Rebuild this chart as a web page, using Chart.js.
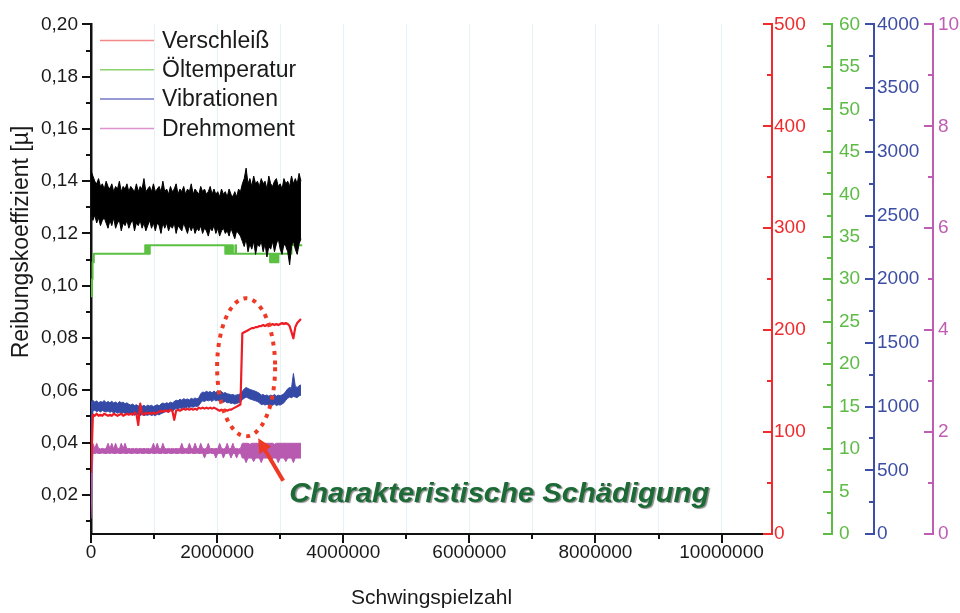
<!DOCTYPE html>
<html>
<head>
<meta charset="utf-8">
<title>Schwingspielzahl</title>
<script src="https://cdn.jsdelivr.net/npm/chart.js@4.4.1/dist/chart.umd.min.js"></script>
<style>
  html, body { margin: 0; padding: 0; background: #fff; }
  #wrap { width: 960px; height: 613px; position: relative; }
</style>
</head>
<body>
<div id="wrap"><canvas id="chart"></canvas></div>
<script>
// logged channels: one sample every 30 000 cycles
const sampleStep = 30000;

// friction coefficient, upper and lower edge of the scatter band (left axis)
const frictionHigh = [
  0.144, 0.142, 0.140, 0.139, 0.141, 0.138, 0.139, 0.137, 0.140, 0.138,
  0.137, 0.139, 0.136, 0.138, 0.137, 0.140, 0.136, 0.138, 0.137, 0.139,
  0.136, 0.138, 0.137, 0.136, 0.139, 0.136, 0.138, 0.137, 0.141, 0.136,
  0.137, 0.138, 0.136, 0.139, 0.136, 0.137, 0.138, 0.136, 0.140, 0.136,
  0.137, 0.135, 0.138, 0.136, 0.137, 0.139, 0.135, 0.137, 0.136, 0.138,
  0.135, 0.137, 0.136, 0.139, 0.135, 0.137, 0.136, 0.135, 0.138, 0.136,
  0.137, 0.135, 0.136, 0.138, 0.135, 0.137, 0.135, 0.136, 0.134, 0.137,
  0.135, 0.136, 0.134, 0.137, 0.135, 0.134, 0.136, 0.134, 0.137, 0.136,
  0.139, 0.141, 0.145, 0.139, 0.141, 0.138, 0.142, 0.139, 0.140, 0.138,
  0.141, 0.139, 0.140, 0.137, 0.142, 0.139, 0.138, 0.140, 0.141, 0.138,
  0.139, 0.137, 0.141, 0.139, 0.140, 0.138, 0.142, 0.139, 0.141, 0.139,
  0.143, 0.140
];
const frictionLow = [
  0.128, 0.125, 0.127, 0.124, 0.126, 0.123, 0.125, 0.126, 0.124, 0.122,
  0.125, 0.123, 0.126, 0.122, 0.124, 0.125, 0.121, 0.124, 0.123, 0.125,
  0.122, 0.124, 0.125, 0.121, 0.124, 0.123, 0.125, 0.122, 0.124, 0.121,
  0.123, 0.125, 0.122, 0.124, 0.121, 0.124, 0.123, 0.120, 0.124, 0.122,
  0.124, 0.121, 0.123, 0.122, 0.124, 0.120, 0.123, 0.122, 0.121, 0.124,
  0.122, 0.120, 0.123, 0.121, 0.123, 0.120, 0.122, 0.121, 0.123, 0.120,
  0.122, 0.121, 0.119, 0.122, 0.121, 0.123, 0.120, 0.122, 0.119, 0.121,
  0.122, 0.120, 0.121, 0.119, 0.122, 0.120, 0.118, 0.121, 0.120, 0.119,
  0.117, 0.115, 0.118, 0.113, 0.116, 0.114, 0.117, 0.112, 0.116, 0.115,
  0.117, 0.113, 0.116, 0.111, 0.115, 0.114, 0.117, 0.113, 0.116, 0.118,
  0.114, 0.112, 0.116, 0.115, 0.113, 0.108, 0.115, 0.117, 0.114, 0.112,
  0.116, 0.118
];

// Verschleiß (wear)
const wear = [
  60, 117, 116, 118, 116, 117, 116, 118, 117, 116,
  117, 116, 118, 117, 116, 117, 118, 116, 117, 118,
  117, 118, 117, 119, 118, 107, 128, 118, 117, 119,
  118, 119, 118, 119, 118, 119, 120, 121, 120, 121,
  121, 120, 122, 121, 112, 121, 122, 121, 122, 123,
  122, 123, 122, 123, 122, 123, 122, 124, 123, 124,
  123, 124, 123, 124, 123, 124, 123, 122, 121, 122,
  121, 122, 121, 122, 122, 123, 124, 125, 126, 127,
  197, 198, 199, 200, 201, 202, 202, 203, 203, 204,
  204, 205, 204, 205, 206, 205, 206, 205, 206, 205,
  206, 207, 206, 207, 206, 204, 198, 192, 203, 207,
  209, 211
];

// Vibrationen, band edges
const vibHigh = [
  1040, 1050, 1035, 1045, 1030, 1040, 1035, 1048, 1030, 1040,
  1030, 1042, 1028, 1036, 1025, 1040, 1030, 1035, 1022, 1030,
  1018, 1012, 1020, 1008, 1015, 1005, 1012, 1002, 1010, 1000,
  1012, 1004, 1010, 1000, 1008, 1015, 1005, 1020, 1028, 1022,
  1030, 1025, 1035, 1028, 1040, 1050, 1045, 1058, 1050, 1062,
  1055, 1060, 1052, 1065, 1058, 1068, 1060, 1070, 1100, 1115,
  1110, 1120, 1112, 1118, 1108, 1122, 1110, 1125, 1112, 1118,
  1105, 1110, 1100, 1098, 1092, 1095, 1088, 1092, 1095, 1100,
  1120, 1138, 1150, 1142, 1135, 1130, 1125, 1120, 1112, 1105,
  1090, 1095, 1085, 1092, 1082, 1090, 1085, 1095, 1082, 1090,
  1085, 1092, 1100, 1120, 1140, 1150, 1145, 1260, 1160, 1150,
  1165, 1170
];
const vibLow = [
  480, 965, 972, 960, 968, 958, 970, 962, 958, 966,
  955, 962, 950, 958, 948, 955, 945, 952, 948, 940,
  945, 938, 942, 932, 940, 935, 930, 938, 928, 935,
  932, 938, 930, 936, 928, 940, 935, 945, 950, 958,
  960, 955, 968, 962, 975, 985, 980, 990, 985, 995,
  990, 998, 992, 1000, 995, 1005, 1000, 1008, 1030, 1045,
  1040, 1050, 1045, 1052, 1040, 1055, 1045, 1050, 1042, 1048,
  1035, 1040, 1030, 1032, 1025, 1028, 1020, 1025, 1030, 1035,
  1055, 1065, 1075, 1068, 1060, 1055, 1050, 1045, 1040, 1030,
  1015, 1020, 1012, 1018, 1008, 1015, 1010, 1020, 1008, 1015,
  1012, 1020, 1030, 1050, 1065, 1075, 1070, 1080, 1075, 1070,
  1085, 1090
];

// Drehmoment (torque), band edges
const torqueHigh = [
  1.78, 1.78, 1.68, 1.78, 1.68, 1.67, 1.68, 1.67, 1.68, 1.78,
  1.68, 1.78, 1.67, 1.78, 1.68, 1.67, 1.78, 1.68, 1.78, 1.67,
  1.68, 1.67, 1.68, 1.67, 1.68, 1.67, 1.68, 1.67, 1.68, 1.67,
  1.68, 1.67, 1.68, 1.78, 1.67, 1.78, 1.68, 1.67, 1.78, 1.68,
  1.67, 1.68, 1.67, 1.68, 1.67, 1.68, 1.67, 1.68, 1.78, 1.67,
  1.68, 1.67, 1.78, 1.68, 1.67, 1.78, 1.68, 1.67, 1.78, 1.68,
  1.67, 1.68, 1.78, 1.67, 1.68, 1.67, 1.68, 1.67, 1.78, 1.68,
  1.67, 1.68, 1.78, 1.67, 1.68, 1.78, 1.67, 1.68, 1.67, 1.68,
  1.78, 1.78, 1.78, 1.78, 1.76, 1.78, 1.78, 1.78, 1.78, 1.78,
  1.78, 1.76, 1.78, 1.78, 1.78, 1.78, 1.78, 1.76, 1.78, 1.78,
  1.78, 1.78, 1.78, 1.78, 1.78, 1.78, 1.78, 1.78, 1.78, 1.78,
  1.78, 1.78
];
const torqueLow = [
  0.30, 1.58, 1.58, 1.59, 1.58, 1.58, 1.59, 1.58, 1.58, 1.59,
  1.58, 1.59, 1.58, 1.58, 1.59, 1.58, 1.58, 1.59, 1.58, 1.58,
  1.59, 1.58, 1.58, 1.59, 1.58, 1.58, 1.59, 1.58, 1.58, 1.59,
  1.58, 1.58, 1.59, 1.58, 1.58, 1.59, 1.58, 1.58, 1.59, 1.58,
  1.58, 1.59, 1.58, 1.58, 1.59, 1.58, 1.58, 1.59, 1.58, 1.58,
  1.59, 1.58, 1.58, 1.59, 1.58, 1.58, 1.59, 1.58, 1.58, 1.59,
  1.49, 1.58, 1.58, 1.59, 1.58, 1.58, 1.49, 1.58, 1.58, 1.59,
  1.49, 1.58, 1.58, 1.59, 1.49, 1.58, 1.58, 1.49, 1.58, 1.59,
  1.49, 1.49, 1.40, 1.49, 1.49, 1.49, 1.42, 1.49, 1.49, 1.49,
  1.40, 1.49, 1.49, 1.49, 1.49, 1.41, 1.49, 1.49, 1.49, 1.40,
  1.49, 1.49, 1.49, 1.42, 1.49, 1.49, 1.49, 1.40, 1.49, 1.49,
  1.49, 1.49
];

// Öltemperatur is only logged when it changes
const oilCycles = [
  0, 15000, 25000, 45000,
  860000, 872000, 884000, 896000, 908000, 920000, 932000,
  2130000, 2145000, 2160000, 2175000, 2190000, 2205000, 2220000, 2235000, 2250000,
  2290000, 2300000,
  2840000, 2852000, 2864000, 2876000, 2888000, 2900000, 2912000, 2924000, 2936000, 2948000, 2960000, 2972000,
  3160000, 3170000, 3180000, 3350000
];
const oilTemp = [
  28, 30, 32, 33,
  34, 33, 34, 33, 34, 33, 34,
  33, 34, 33, 34, 33, 34, 33, 34, 33,
  34, 33,
  32, 33, 32, 33, 32, 33, 32, 33, 32, 33, 32, 33,
  34, 33, 34, 34
];

// axis ticks (labels on every second one)
const cycleTicks = [0, 1000000, 2000000, 3000000, 4000000, 5000000, 6000000, 7000000, 8000000, 9000000, 10000000];
const frictionTicks = [0.01, 0.02, 0.03, 0.04, 0.05, 0.06, 0.07, 0.08, 0.09, 0.10,
  0.11, 0.12, 0.13, 0.14, 0.15, 0.16, 0.17, 0.18, 0.19, 0.20];
const wearTicks = [0, 50, 100, 150, 200, 250, 300, 350, 400, 450, 500];
const oilTicks = [0, 2.5, 5, 7.5, 10, 12.5, 15, 17.5, 20, 22.5, 25, 27.5, 30,
  32.5, 35, 37.5, 40, 42.5, 45, 47.5, 50, 52.5, 55, 57.5, 60];
const vibTicks = [0, 250, 500, 750, 1000, 1250, 1500, 1750, 2000, 2250, 2500,
  2750, 3000, 3250, 3500, 3750, 4000];
const torqueTicks = [0, 1, 2, 3, 4, 5, 6, 7, 8, 9, 10];

const FONT = 'Liberation Sans, Arial, Helvetica, sans-serif';
const GREEN = '#5dbb46', BLUE = '#3d4ea6', PINK = '#bf5cb3';

function sampled(values) {
  return values.map((v, i) => ({ x: i * sampleStep, y: v }));
}

const oilData = oilCycles.map((c, i) => ({ x: c, y: oilTemp[i] }));

function useTicks(list) {
  return scale => { scale.ticks = list.map(v => ({ value: v })); };
}

// legend shows the four test channels with lighter line samples
const legendItems = [
  { label: 'Verschleiß', color: '#f48787' },
  { label: 'Öltemperatur', color: '#8ad36c' },
  { label: 'Vibrationen', color: '#7478c4' },
  { label: 'Drehmoment', color: '#dc93cf' }
];

// short tick marks; right-hand axes get them on the inside
const tickMarks = {
  id: 'tickMarks',
  afterDraw(chart) {
    const ctx = chart.ctx;
    ctx.save();
    ctx.lineWidth = 2;
    Object.values(chart.scales).forEach(scale => {
      ctx.strokeStyle = scale.options.border.color;
      scale.ticks.forEach(t => {
        const major = t.label !== '' && t.label != null;
        const len = major ? 9 : 5;
        ctx.beginPath();
        if (scale.axis === 'x') {
          const px = Math.round(scale.getPixelForValue(t.value));
          ctx.moveTo(px, scale.top);
          ctx.lineTo(px, scale.top + len);
        } else if (scale.position === 'left') {
          const py = Math.round(scale.getPixelForValue(t.value));
          ctx.moveTo(scale.right - len, py);
          ctx.lineTo(scale.right, py);
        } else {
          const py = Math.round(scale.getPixelForValue(t.value));
          ctx.moveTo(scale.left - len, py);
          ctx.lineTo(scale.left, py);
        }
        ctx.stroke();
      });
    });
    ctx.restore();
  }
};

// dotted ring, arrow and caption for the damage event
const damageNote = {
  id: 'damageNote',
  afterDatasetsDraw(chart) {
    const { ctx, scales: { x, y } } = chart;
    ctx.save();

    const cx = x.getPixelForValue(2460000);
    const cy = y.getPixelForValue(0.0688);
    const rx = x.getPixelForValue(2920000) - cx;
    const ry = y.getPixelForValue(0.0688 - 0.0264) - cy;
    ctx.strokeStyle = '#ee3a24';
    ctx.lineWidth = 4;
    ctx.setLineDash([4, 5.5]);
    ctx.beginPath();
    ctx.ellipse(cx, cy, rx, ry, 0, 0, Math.PI * 2);
    ctx.stroke();
    ctx.setLineDash([]);

    const x0 = x.getPixelForValue(3048000), y0 = y.getPixelForValue(0.0254);
    const x1 = x.getPixelForValue(2651000), y1 = y.getPixelForValue(0.0416);
    const ang = Math.atan2(y1 - y0, x1 - x0);
    const head = 14;
    ctx.lineWidth = 4;
    ctx.beginPath();
    ctx.moveTo(x0, y0);
    ctx.lineTo(x1 - Math.cos(ang) * (head - 2), y1 - Math.sin(ang) * (head - 2));
    ctx.stroke();
    ctx.fillStyle = '#ee3a24';
    ctx.beginPath();
    ctx.moveTo(x1, y1);
    ctx.lineTo(x1 - head * Math.cos(ang) + 7 * Math.sin(ang), y1 - head * Math.sin(ang) - 7 * Math.cos(ang));
    ctx.lineTo(x1 - head * Math.cos(ang) - 7 * Math.sin(ang), y1 - head * Math.sin(ang) + 7 * Math.cos(ang));
    ctx.closePath();
    ctx.fill();

    const text = 'Charakteristische Schädigung';
    ctx.font = 'italic bold 27px ' + FONT;
    const sx = 420 / ctx.measureText(text).width;
    ctx.translate(x.getPixelForValue(6474000), y.getPixelForValue(0.0202));
    ctx.scale(sx, 1);
    ctx.textAlign = 'center';
    ctx.textBaseline = 'middle';
    ctx.shadowColor = 'rgba(0, 0, 0, 0.45)';
    ctx.shadowOffsetX = 1.5;
    ctx.shadowOffsetY = 1.5;
    ctx.shadowBlur = 1;
    ctx.fillStyle = '#1c6b36';
    ctx.fillText(text, 0, 0);
    ctx.restore();
  }
};

const legendBox = {
  id: 'legendBox',
  afterDraw(chart) {
    const { ctx, chartArea } = chart;
    ctx.save();
    ctx.font = '23px ' + FONT;
    ctx.textBaseline = 'middle';
    ctx.fillStyle = '#1a1a1a';
    ctx.lineWidth = 1.5;
    legendItems.forEach((item, i) => {
      const yy = 40.5 + i * 29.3;
      ctx.strokeStyle = item.color;
      ctx.beginPath();
      ctx.moveTo(chartArea.left + 9, yy);
      ctx.lineTo(chartArea.left + 63, yy);
      ctx.stroke();
      ctx.fillText(item.label, chartArea.left + 71, yy + 1);
    });
    ctx.restore();
  }
};

const leftTitle = {
  id: 'leftTitle',
  afterDraw(chart) {
    const ctx = chart.ctx;
    ctx.save();
    ctx.translate(22, 242);
    ctx.rotate(-Math.PI / 2);
    ctx.font = '23px ' + FONT;
    ctx.fillStyle = '#1a1a1a';
    ctx.textAlign = 'center';
    ctx.textBaseline = 'middle';
    ctx.fillText('Reibungskoeffizient [µ]', 0, 0);
    ctx.restore();
  }
};

function rightAxis(color, max, list, labelStep, weight, width, pad) {
  return {
    type: 'linear',
    position: 'right',
    weight: weight,
    min: 0,
    max: max,
    grid: { display: false, drawTicks: false },
    border: { display: true, color: color, width: 2 },
    afterBuildTicks: useTicks(list),
    ticks: {
      autoSkip: false,
      padding: pad,
      color: color,
      font: { family: FONT, size: 19 },
      callback: v => (Math.abs(v / labelStep - Math.round(v / labelStep)) < 1e-6 ? String(v) : '')
    },
    afterFit: s => { s.width = width; }
  };
}

function band(label, high, low, axis, color, order) {
  return [
    { label: label, data: sampled(high), yAxisID: axis, borderColor: color,
      borderWidth: 1, order: order },
    { label: label, data: sampled(low), yAxisID: axis, borderColor: color,
      borderWidth: 1, backgroundColor: color, fill: '-1', order: order }
  ];
}

new Chart(document.getElementById('chart'), {
  type: 'line',
  data: {
    datasets: [
      ...band('Reibungskoeffizient', frictionHigh, frictionLow, 'y', '#000', 1),
      { label: 'Verschleiß', data: sampled(wear), yAxisID: 'yWear',
        borderColor: '#ee1d25', borderWidth: 2.2, order: 2 },
      ...band('Vibrationen', vibHigh, vibLow, 'yVib', '#3549a6', 3),
      { label: 'Öltemperatur', data: oilData, yAxisID: 'yOil', stepped: true,
        borderColor: '#5cc043', borderWidth: 2, order: 4 },
      ...band('Drehmoment', torqueHigh, torqueLow, 'yTorque', '#b75ab0', 5)
    ]
  },
  options: {
    responsive: true,
    maintainAspectRatio: false,
    animation: false,
    devicePixelRatio: 1,
    layout: { padding: { top: 17, right: 0, bottom: 0, left: 0 } },
    elements: {
      point: { radius: 0 },
      line: { tension: 0, borderJoinStyle: 'round', fill: false }
    },
    plugins: {
      legend: { display: false },
      tooltip: { enabled: false },
      filler: { drawTime: 'beforeDatasetDraw' }
    },
    scales: {
      x: {
        type: 'linear',
        min: 0,
        max: 10800000,
        grid: { display: true, color: '#e4f1f6', lineWidth: 1, drawTicks: false },
        border: { display: true, color: '#111', width: 2 },
        afterBuildTicks: useTicks(cycleTicks),
        ticks: {
          autoSkip: false,
          maxRotation: 0,
          padding: 7,
          color: '#1a1a1a',
          font: { family: FONT, size: 19 },
          callback: v => (Math.round(v / 1000000) % 2 === 0 ? String(v) : '')
        },
        title: {
          display: true,
          text: 'Schwingspielzahl',
          color: '#1a1a1a',
          font: { family: FONT, size: 21 },
          padding: { top: 0, bottom: 2 }
        },
        afterFit: s => { s.height = 79; }
      },
      y: {
        type: 'linear',
        position: 'left',
        min: 0.005,
        max: 0.2,
        grid: { display: false, drawTicks: false },
        border: { display: true, color: '#111', width: 2.5 },
        afterBuildTicks: useTicks(frictionTicks),
        ticks: {
          autoSkip: false,
          padding: 13,
          color: '#1a1a1a',
          font: { family: FONT, size: 19 },
          callback: v => (Math.round(v * 100) % 2 === 0 ? v.toFixed(2).replace('.', ',') : '')
        },
        afterFit: s => { s.width = 91; }
      },
      yWear: rightAxis('#ef2b2d', 500, wearTicks, 100, 0, 60, 2),
      yOil: rightAxis(GREEN, 60, oilTicks, 5, 1, 42, 7),
      yVib: rightAxis(BLUE, 4000, vibTicks, 500, 2, 59, 3),
      yTorque: rightAxis(PINK, 10, torqueTicks, 2, 3, 27, 5)
    }
  },
  plugins: [tickMarks, damageNote, legendBox, leftTitle]
});
</script>
</body>
</html>
